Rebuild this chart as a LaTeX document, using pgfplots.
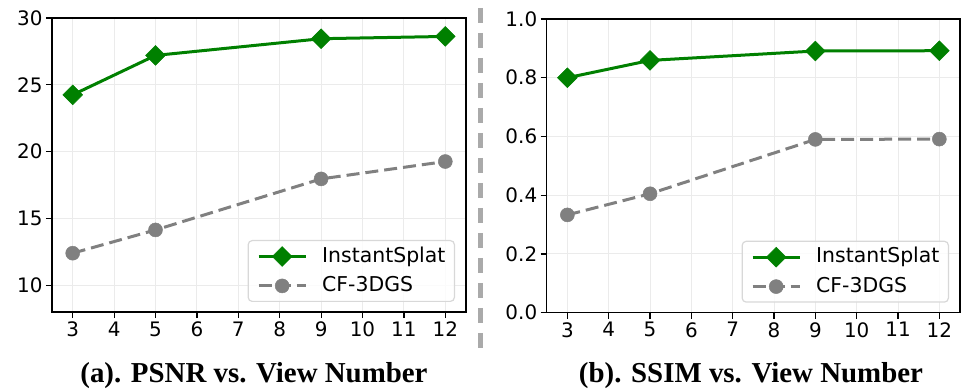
\documentclass[border=0pt]{standalone}
\usepackage{fontspec}
\setmainfont{DejaVu Sans}
\newfontfamily\titlefont{Liberation Serif}
\usepackage{pgfplots}
\pgfplotsset{compat=1.18}
\definecolor{mgreen}{HTML}{008000}
\definecolor{mgray}{HTML}{808080}
\definecolor{gridc}{HTML}{EBEBEB}
\definecolor{divc}{HTML}{AAAAAA}
\definecolor{legc}{HTML}{D8D8D8}

\pgfplotsset{
  myax/.style={
    scale only axis, width=414bp, height=294bp, anchor=south west,
    xmin=2.5, xmax=12.5, xtick={3,...,12},
    grid=major, major grid style={gridc, line width=1bp},
    axis line style={line width=1.5bp},
    tick style={black, line width=1.2bp}, tick align=outside, major tick length=6bp,
    xtick pos=left, ytick pos=left,
    tick label style={font=\fontsize{20}{24}\selectfont},
    /pgf/number format/assume math mode=true,
    legend cell align=left,
    legend style={at={(1,0)}, anchor=south east, xshift=-11bp, yshift=10bp,
      draw=legc, rounded corners=4bp, line width=1.2bp, fill=white,
      fill opacity=0.8, text opacity=1, draw opacity=1,
      font=\fontsize{20.5}{24}\selectfont,
      inner xsep=9bp, inner ysep=6bp, row sep=10bp,
      nodes={inner xsep=0bp, inner ysep=0bp, text height=15bp, text depth=4bp},
      /tikz/every odd column/.append style={column sep=15bp}},
    legend image code/.code={\draw[mark repeat=2,mark phase=2,##1] plot coordinates {(0bp,0bp) (23.5bp,0bp) (47bp,0bp)};},
  },
  gline/.style={color=mgreen, line width=3bp, mark=square*, mark size=7bp,
    mark options={rotate=45, solid, draw=mgreen, fill=mgreen, fill opacity=1, draw opacity=1, line width=0.5bp}},
  cline/.style={color=mgray, line width=3bp, dash pattern=on 13bp off 6bp, mark=*, mark size=7bp,
    mark options={solid, draw=mgray, fill=mgray, fill opacity=1, draw opacity=1, line width=0.5bp}},
}

\begin{document}
\begin{tikzpicture}
\useasboundingbox (0,0) rectangle (965bp,392bp);

\begin{axis}[myax, at={(52bp,80bp)}, ymin=8, ymax=30, ytick={10,15,20,25,30}]
\addplot[gline] coordinates {(3,24.25) (5,27.2) (9,28.45) (12,28.62)};
\addlegendentry{InstantSplat}
\addplot[cline] coordinates {(3,12.4) (5,14.14) (9,17.96) (12,19.26)};
\addlegendentry{CF-3DGS}
\end{axis}

\begin{axis}[myax, at={(546.7bp,79.3bp)}, width=413.3bp, height=293.7bp,
  ymin=0, ymax=1, ytick={0,0.2,0.4,0.6,0.8,1.0},
  yticklabel style={/pgf/number format/.cd, fixed, fixed zerofill, precision=1}]
\addplot[gline] coordinates {(3,0.800) (5,0.859) (9,0.891) (12,0.892)};
\addlegendentry{InstantSplat}
\addplot[cline] coordinates {(3,0.333) (5,0.405) (9,0.590) (12,0.591)};
\addlegendentry{CF-3DGS}
\end{axis}

\draw[divc, line width=4.5bp, dash pattern=on 15bp off 10bp] (480.5bp,384bp) -- (480.5bp,37bp);

\node[anchor=base, font=\titlefont\bfseries\fontsize{29}{33}\selectfont] at (254bp,10bp) {(a). PSNR vs. View Number};
\node[anchor=base, font=\titlefont\bfseries\fontsize{29}{33}\selectfont] at (751bp,10bp) {(b). SSIM vs. View Number};
\end{tikzpicture}
\end{document}
